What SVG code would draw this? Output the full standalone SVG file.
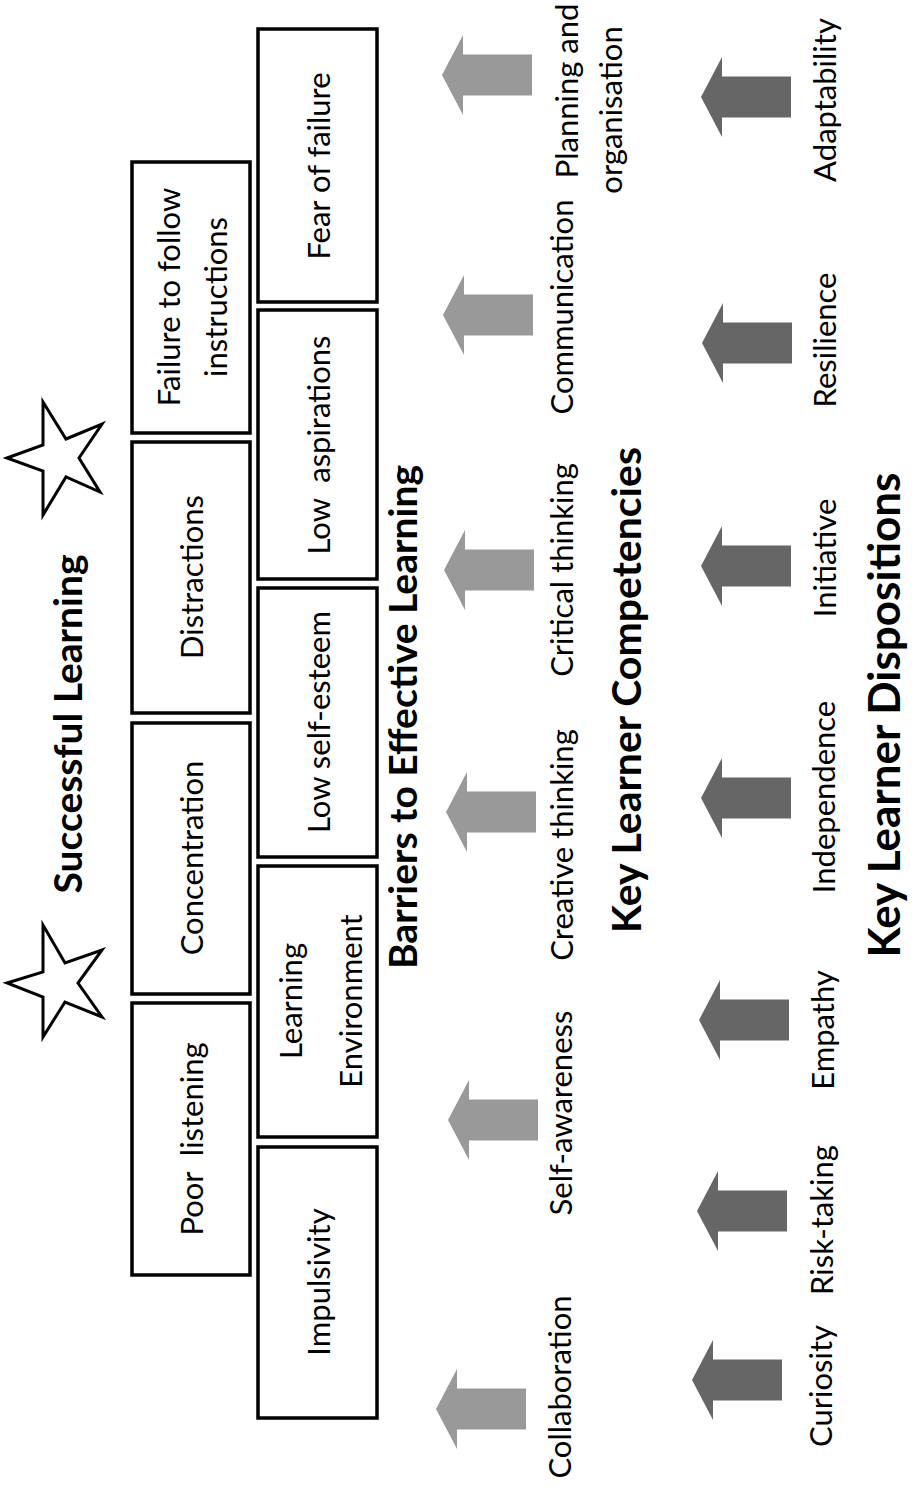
<svg xmlns="http://www.w3.org/2000/svg" xmlns:xlink="http://www.w3.org/1999/xlink" width="913" height="1498" viewBox="0 0 913 1498">
<style>
.box{fill:#fff;stroke:#000;stroke-width:3.5}
.star{fill:#fff;stroke:#000;stroke-width:3;stroke-linejoin:miter}
.lbl{font-family:Lato,"Liberation Sans",sans-serif;font-size:31px;fill:#000;text-anchor:middle}
.ttl{font-family:Lato,"Liberation Sans",sans-serif;font-size:41px;font-weight:bold;fill:#000;text-anchor:middle}
.light{fill:#999}
.dark{fill:#666}
</style>
<defs>
<path id="arr" d="M0,0 L21,-40 L21,-20.5 L90,-20.5 L90,20.5 L21,20.5 L21,40 Z"/>
</defs>
<rect width="913" height="1498" fill="#fff"/>

<g id="title">
<polygon class="star" points="7,458 43,445 43,402 66,439 102,424 79,458 100,492 66,477 43,515 43,471"/>
<polygon class="star" points="7,983 43,972 43,925 65,963 102,950 78,983 102,1017 65,1002 43,1037 43,997"/>
<text class="ttl" style="font-size:39px" transform="translate(82,724) rotate(-90)">Successful Learning</text>
</g>

<g id="barrier-failure-to-follow"><rect class="box" x="132" y="162" width="118" height="271"/>
<text class="lbl" transform="translate(180,297) rotate(-90)">Failure to follow</text>
<text class="lbl" transform="translate(227,297) rotate(-90)">instructions</text></g>
<g id="barrier-distractions"><rect class="box" x="132" y="442" width="118" height="271"/>
<text class="lbl" transform="translate(203,577) rotate(-90)">Distractions</text></g>
<g id="barrier-concentration"><rect class="box" x="132" y="723" width="118" height="271"/>
<text class="lbl" transform="translate(203,858) rotate(-90)">Concentration</text></g>
<g id="barrier-poor-listening"><rect class="box" x="132" y="1003" width="118" height="272"/>
<text class="lbl" transform="translate(203,1139) rotate(-90)">Poor&#160; listening</text></g>

<g id="barrier-fear-of-failure"><rect class="box" x="258" y="29" width="119" height="273"/>
<text class="lbl" transform="translate(330,166) rotate(-90)">Fear of failure</text></g>
<g id="barrier-low-aspirations"><rect class="box" x="258" y="310" width="119" height="269"/>
<text class="lbl" transform="translate(330,445) rotate(-90)">Low&#160; aspirations</text></g>
<g id="barrier-low-self-esteem"><rect class="box" x="258" y="588" width="119" height="269"/>
<text class="lbl" transform="translate(330,722) rotate(-90)">Low self-esteem</text></g>
<g id="barrier-learning-environment"><rect class="box" x="258" y="866" width="119" height="271"/>
<text class="lbl" transform="translate(302,1001) rotate(-90)">Learning</text>
<text class="lbl" transform="translate(362,1001) rotate(-90)">Environment</text></g>
<g id="barrier-impulsivity"><rect class="box" x="258" y="1147" width="119" height="271"/>
<text class="lbl" transform="translate(330,1282) rotate(-90)">Impulsivity</text></g>

<g id="barriers-title"><text class="ttl" style="font-size:39px" transform="translate(417,717) rotate(-90)">Barriers to Effective Learning</text></g>

<g id="connectors">
<use xlink:href="#arr" href="#arr" class="light" transform="translate(442,75)"/>
<use xlink:href="#arr" href="#arr" class="light" transform="translate(443,315)"/>
<use xlink:href="#arr" href="#arr" class="light" transform="translate(444,570)"/>
<use xlink:href="#arr" href="#arr" class="light" transform="translate(446,812)"/>
<use xlink:href="#arr" href="#arr" class="light" transform="translate(448,1120)"/>
<use xlink:href="#arr" href="#arr" class="light" transform="translate(436,1409)"/>
<use xlink:href="#arr" href="#arr" class="dark" transform="translate(701,97)"/>
<use xlink:href="#arr" href="#arr" class="dark" transform="translate(702,343)"/>
<use xlink:href="#arr" href="#arr" class="dark" transform="translate(701,566)"/>
<use xlink:href="#arr" href="#arr" class="dark" transform="translate(701,798)"/>
<use xlink:href="#arr" href="#arr" class="dark" transform="translate(699,1020)"/>
<use xlink:href="#arr" href="#arr" class="dark" transform="translate(697,1211)"/>
<use xlink:href="#arr" href="#arr" class="dark" transform="translate(692,1380)"/>
</g>

<g id="competency-planning"><text class="lbl" transform="translate(578,91) rotate(-90)">Planning and</text>
<text class="lbl" transform="translate(622,110) rotate(-90)">organisation</text></g>
<g id="competency-communication"><text class="lbl" transform="translate(573,307) rotate(-90)">Communication</text></g>
<g id="competency-critical"><text class="lbl" transform="translate(573,570) rotate(-90)">Critical thinking</text></g>
<g id="competency-creative"><text class="lbl" transform="translate(573,845) rotate(-90)">Creative thinking</text></g>
<g id="competency-self-awareness"><text class="lbl" transform="translate(572,1113) rotate(-90)">Self-awareness</text></g>
<g id="competency-collaboration"><text class="lbl" transform="translate(571,1387) rotate(-90)">Collaboration</text></g>
<g id="competencies-title"><text class="ttl" transform="translate(641,690) rotate(-90)">Key Learner Competencies</text></g>

<g id="disposition-adaptability"><text class="lbl" transform="translate(836,100) rotate(-90)">Adaptability</text></g>
<g id="disposition-resilience"><text class="lbl" transform="translate(836,340) rotate(-90)">Resilience</text></g>
<g id="disposition-initiative"><text class="lbl" transform="translate(836,558) rotate(-90)">Initiative</text></g>
<g id="disposition-independence"><text class="lbl" transform="translate(835,797) rotate(-90)">Independence</text></g>
<g id="disposition-empathy"><text class="lbl" transform="translate(834,1030) rotate(-90)">Empathy</text></g>
<g id="disposition-risk-taking"><text class="lbl" transform="translate(833,1220) rotate(-90)">Risk-taking</text></g>
<g id="disposition-curiosity"><text class="lbl" transform="translate(832,1386) rotate(-90)">Curiosity</text></g>
<g id="dispositions-title"><text class="ttl" style="font-size:44px" transform="translate(900,715) rotate(-90)">Key Learner Dispositions</text></g>
</svg>
